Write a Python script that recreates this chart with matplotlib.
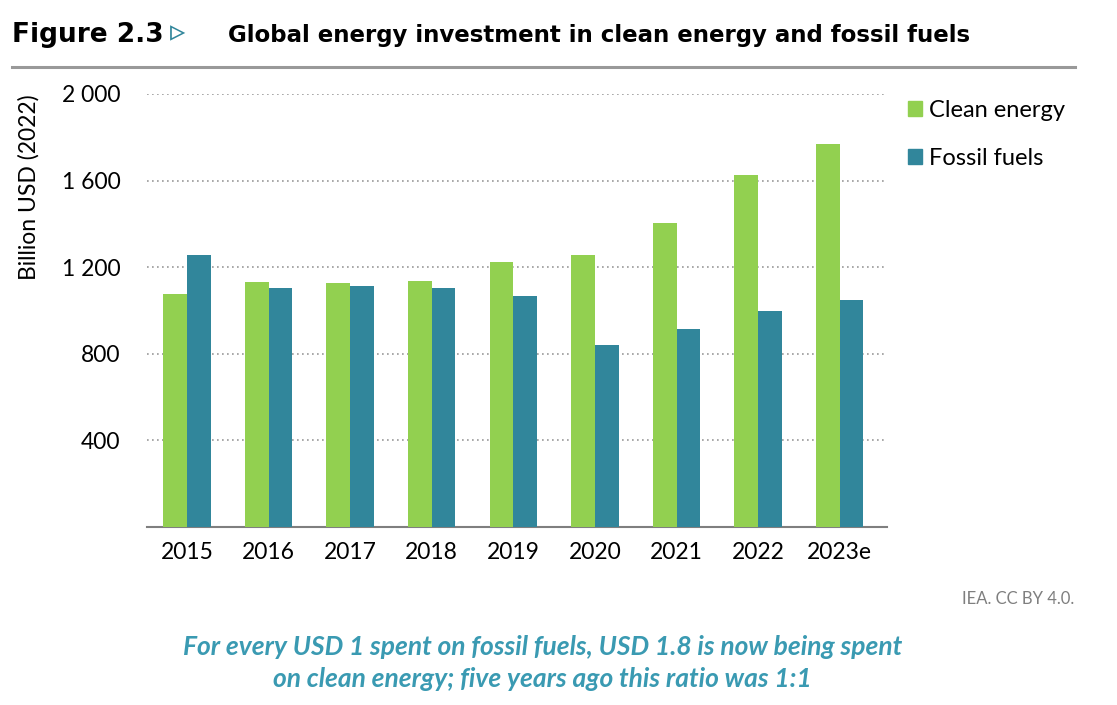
import matplotlib
matplotlib.use("Agg")
import matplotlib.pyplot as plt
import matplotlib.patches as mpatches
import numpy as np

# data
years = ["2015", "2016", "2017", "2018", "2019", "2020", "2021", "2022", "2023e"]
clean_energy = [1076, 1132, 1127, 1136, 1224, 1256, 1404, 1626, 1769]
fossil_fuels = [1256, 1104, 1113, 1104, 1067, 841, 915, 998, 1048]
yticks = [400, 800, 1200, 1600, 2000]

green = "#92D050"
teal = "#31869B"
caption_teal = "#3A9AB2"

fig = plt.figure(figsize=(11.17, 7.05), dpi=100)
ax = fig.add_axes([0.1316, 0.2525, 0.6625, 0.6142])

x = np.arange(len(years))
w = 0.29
ax.bar(x - w / 2, clean_energy, width=w, color=green, zorder=3)
ax.bar(x + w / 2, fossil_fuels, width=w, color=teal, zorder=3)

ax.set_xlim(-0.49, 8.58)
ax.set_ylim(0, 2000)
ax.set_xticks(x)
ax.set_xticklabels(years, fontsize=16.5, family="Lato")
ax.set_yticks(yticks)
ax.set_yticklabels([f"{v:,}".replace(",", " ") for v in yticks], fontsize=16.5, family="Lato")
ax.tick_params(axis="both", length=0)
ax.tick_params(axis="y", pad=19)
ax.tick_params(axis="x", pad=11)

# dotted gridlines
ax.grid(axis="y", linestyle=(0, (1, 2)), color="#999999", linewidth=1.2, zorder=0)
for s in ["top", "right", "left"]:
    ax.spines[s].set_visible(False)
ax.spines["bottom"].set_color("#7f7f7f")
ax.spines["bottom"].set_linewidth(1.5)

ax.set_ylabel("Billion USD (2022)", fontsize=16.5, family="Lato")
ax.yaxis.set_label_coords(-0.145, 0.785)

# legend
handles = [mpatches.Patch(color=green, label="Clean energy"),
           mpatches.Patch(color=teal, label="Fossil fuels")]
fig.legend(handles=handles, loc="upper left", bbox_to_anchor=(0.813, 0.858),
           frameon=False, prop={"family": "Lato", "size": 17},
           borderpad=0, borderaxespad=0,
           handlelength=0.6, handleheight=0.6, handletextpad=0.3, labelspacing=1.15)

# header
fig.text(0.011, 0.94, "Figure 2.3", fontsize=19, fontweight="heavy",
         family="DejaVu Sans", va="baseline")
fig.text(0.152, 0.942, "\u25b9", fontsize=22, color=teal, family="DejaVu Sans",
         va="baseline")
fig.text(0.204, 0.94, "Global energy investment in clean energy and fossil fuels",
         fontsize=16.5, fontweight="bold", family="DejaVu Sans", va="baseline")
fig.add_artist(plt.Line2D([0.011, 0.962], [0.905, 0.905], color="#999999",
                          linewidth=2.2, transform=fig.transFigure))

# source and caption
fig.text(0.962, 0.151, "IEA. CC BY 4.0.", fontsize=12, color="#7f7f7f",
         family="Lato", ha="right", va="center")
fig.text(0.486, 0.059,
         "For every USD 1 spent on fossil fuels, USD 1.8 is now being spent\non clean energy; five years ago this ratio was 1:1",
         fontsize=19, color=caption_teal, fontweight="bold", style="italic",
         family="Lato", ha="center", va="center", linespacing=1.4)

fig.savefig("out.png", dpi=100)
